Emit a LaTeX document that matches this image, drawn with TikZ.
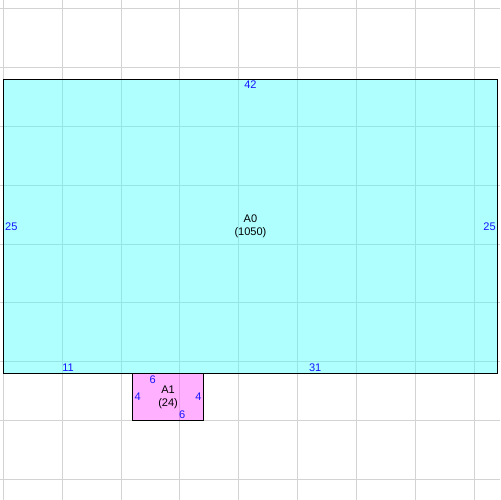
\documentclass[tikz,border=0pt]{standalone}
\usepackage{fontspec}
\setmainfont{Liberation Sans}
\usetikzlibrary{positioning}
\definecolor{roomcyan}{RGB}{62,255,255}
\definecolor{roompink}{RGB}{255,62,255}
\definecolor{gridgray}{RGB}{211,211,211}
\definecolor{dimblue}{RGB}{20,20,255}
\tikzset{
    room/.style={
        draw=black,
        line width=0.8pt,
        fill opacity=0.41
    },
    gridline/.style={
        draw=gridgray,
        line width=0.7pt
    },
    dimlabel/.style={
        text=dimblue,
        font=\fontsize{8}{9}\selectfont,
        inner sep=1.2pt
    },
    roomtag/.style={
        font=\fontsize{8}{9.5}\selectfont,
        align=center,
        inner sep=0pt
    }
}

\begin{document}
\begin{tikzpicture}[x=0.3cm, y=0.3cm]
\useasboundingbox (-0.28,-6.74) rectangle (42.2,35.74);

% Grid
\foreach \gx in {0,5,...,40}
    \draw[gridline] (\gx,-6.74) -- (\gx,35.74);
\foreach \gy in {-5,0,...,35}
    \draw[gridline] (-0.28,\gy) -- (42.2,\gy);

% Rooms
\draw[room, fill=roomcyan] (0,4) rectangle (42,29);
\draw[room, fill=roompink] (11,0) rectangle (17,4);

% Room A0
\node[roomtag] (tagA0) at (21,16.5) {A0\\(1050)};
\node[dimlabel, anchor=north] (topA0) at (21,29) {42};
\node[dimlabel, anchor=west] (leftA0) at (0,16.5) {25};
\node[dimlabel, anchor=east] (rightA0) at (42,16.5) {25};
\node[dimlabel, anchor=south] (botA0a) at (5.5,4) {11};
\node[dimlabel, anchor=south] (botA0b) at (26.5,4) {31};

% Room A1
\node[roomtag] (tagA1) at (14,2) {A1\\(24)};
\node[dimlabel, anchor=north] (topA1) at (12.7,4) {6};
\node[dimlabel, anchor=south] (botA1) at (15.2,0) {6};
\node[dimlabel, anchor=west] (leftA1) at (11,2) {4};
\node[dimlabel, anchor=east] (rightA1) at (17,2) {4};

\end{tikzpicture}
\end{document}
